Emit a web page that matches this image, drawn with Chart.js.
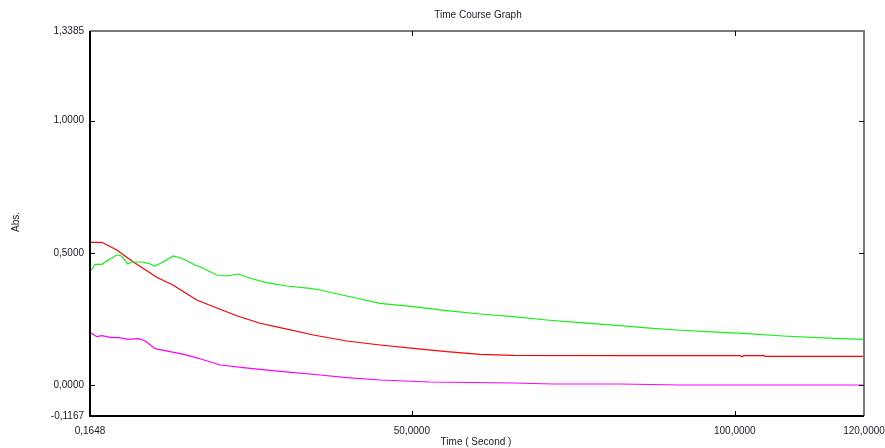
<!DOCTYPE html>
<html>
<head>
<meta charset="utf-8">
<script src="https://cdn.jsdelivr.net/npm/chart.js@4"></script>
<style>
  html, body { margin: 0; padding: 0; background: #fff; }
  #wrap { width: 885px; height: 448px; }
</style>
</head>
<body>
<div id="wrap"><canvas id="tc"></canvas></div>
<script>
// time (s) and absorbance readings
const greenTime = [0.16, 0.94, 1.98, 3.00, 4.30, 5.07, 6.00, 6.62, 8.17, 9.19, 10.12, 11.27, 13.06, 14.36, 16.42, 17.19, 19.78, 21.33, 23.12, 24.94, 27.52, 30.62, 34.23, 35.77, 39.91, 45.06, 50.22, 55.39, 60.55, 65.70, 70.87, 76.03, 82.22, 85.83, 90.99, 95.64, 101.31, 107.50, 115.24, 120.0];
const greenAbs = [0.4265, 0.4567, 0.4567, 0.4729, 0.4918, 0.4880, 0.4578, 0.4654, 0.4654, 0.4605, 0.4503, 0.4628, 0.4881, 0.4794, 0.4541, 0.4476, 0.4163, 0.4125, 0.4200, 0.4038, 0.3872, 0.3747, 0.3660, 0.3596, 0.3369, 0.3093, 0.2964, 0.2813, 0.2688, 0.2586, 0.2462, 0.2360, 0.2246, 0.2171, 0.2084, 0.2020, 0.1959, 0.1857, 0.1770, 0.1732];

const redTime = [0.16, 1.98, 4.30, 6.82, 10.49, 12.99, 16.68, 20.29, 22.88, 26.48, 29.58, 34.74, 39.91, 45.06, 50.22, 55.39, 60.55, 65.70, 82.22, 100.80, 101.06, 101.40, 104.50, 104.70, 120.0];
const redAbs = [0.5398, 0.5398, 0.5107, 0.4665, 0.4076, 0.3785, 0.3218, 0.2866, 0.2624, 0.2337, 0.2171, 0.1895, 0.1668, 0.1517, 0.1392, 0.1264, 0.1165, 0.1128, 0.1115, 0.1115, 0.1070, 0.1115, 0.1115, 0.1090, 0.1090];

const pinkTime = [0.16, 1.20, 1.98, 3.52, 4.55, 6.09, 7.64, 8.68, 10.23, 11.78, 13.32, 14.87, 16.93, 20.29, 24.94, 30.09, 35.77, 39.91, 45.06, 52.80, 65.70, 71.89, 82.22, 91.51, 120.0];
const pinkAbs = [0.1997, 0.1830, 0.1868, 0.1793, 0.1793, 0.1732, 0.1755, 0.1679, 0.1377, 0.1301, 0.1226, 0.1150, 0.1014, 0.0761, 0.0636, 0.0508, 0.0383, 0.0281, 0.0194, 0.0118, 0.0081, 0.0043, 0.0043, 0.0005, 0.0005];

const xTicks = [0.1648, 50, 100, 120];
const xTickLabels = ["0,1648", "50,0000", "100,0000", "120,0000"];
const yTicks = [-0.1167, 0, 0.5, 1, 1.3385];
const yTickLabels = ["-0,1167", "0,0000", "0,5000", "1,0000", "1,3385"];

const toPoints = (ts, vs) => ts.map((t, i) => ({ x: t, y: vs[i] }));

const FONT = '10px "Liberation Sans", Arial, sans-serif';

// frame, ticks and labels, placed through the chart's own scales
const framePlugin = {
    id: 'frame',
    afterDatasetsDraw(chart) {
        const { ctx, chartArea: a, scales: { x, y } } = chart;
        ctx.save();
        ctx.lineCap = 'butt';

        // top + right border (grey)
        ctx.strokeStyle = '#7a7a7a';
        ctx.lineWidth = 2;
        ctx.beginPath();
        ctx.moveTo(a.left, a.top);
        ctx.lineTo(a.right, a.top);
        ctx.lineTo(a.right, a.bottom);
        ctx.stroke();

        // left + bottom axes (black)
        ctx.strokeStyle = '#000';
        ctx.beginPath();
        ctx.moveTo(a.left, a.top);
        ctx.lineTo(a.left, a.bottom);
        ctx.lineTo(a.right, a.bottom);
        ctx.stroke();

        // inner ticks
        ctx.lineWidth = 1;
        ctx.strokeStyle = '#000';
        ctx.beginPath();
        [0, 0.5, 1].forEach(v => {
            const py = Math.round(y.getPixelForValue(v)) + 0.5;
            ctx.moveTo(a.left, py); ctx.lineTo(a.left + 5, py);
            ctx.moveTo(a.right, py); ctx.lineTo(a.right - 5, py);
        });
        [50, 100].forEach(v => {
            const px = Math.round(x.getPixelForValue(v)) + 0.5;
            ctx.moveTo(px, a.bottom); ctx.lineTo(px, a.bottom - 5);
            ctx.moveTo(px, a.top); ctx.lineTo(px, a.top + 5);
        });
        ctx.stroke();

        ctx.fillStyle = '#1a1a2a';
        ctx.font = FONT;

        // y labels
        ctx.textAlign = 'right';
        ctx.textBaseline = 'middle';
        yTicks.forEach((v, i) => {
            ctx.fillText(yTickLabels[i], a.left - 6, y.getPixelForValue(v));
        });

        // x labels
        ctx.textAlign = 'center';
        ctx.textBaseline = 'top';
        xTicks.forEach((v, i) => {
            ctx.fillText(xTickLabels[i], x.getPixelForValue(v), a.bottom + 10);
        });

        // axis titles
        ctx.fillText('Time ( Second )', 476, a.bottom + 21);
        ctx.fillText('Time Course Graph', 478, 10);

        ctx.save();
        ctx.translate(16, 222);
        ctx.rotate(-Math.PI / 2);
        ctx.textBaseline = 'middle';
        ctx.fillText('Abs.', 0, 0);
        ctx.restore();

        ctx.restore();
    }
};

const lineSet = (label, pts, color) => ({
    label,
    data: pts,
    borderColor: color,
    borderWidth: 1.2,
    pointRadius: 0,
    tension: 0,
    fill: false
});

new Chart(document.getElementById('tc'), {
    type: 'line',
    data: {
        datasets: [
            lineSet('Green', toPoints(greenTime, greenAbs), '#14f014'),
            lineSet('Red', toPoints(redTime, redAbs), '#ff0000'),
            lineSet('Magenta', toPoints(pinkTime, pinkAbs), '#ff00ff')
        ]
    },
    options: {
        responsive: true,
        maintainAspectRatio: false,
        animation: false,
        layout: { padding: { left: 90, right: 21, top: 31, bottom: 32 } },
        plugins: {
            legend: { display: false },
            tooltip: { enabled: false }
        },
        scales: {
            x: { type: 'linear', display: false, min: 0.1648, max: 120 },
            y: { type: 'linear', display: false, min: -0.1167, max: 1.3385 }
        }
    },
    plugins: [framePlugin]
});
</script>
</body>
</html>
